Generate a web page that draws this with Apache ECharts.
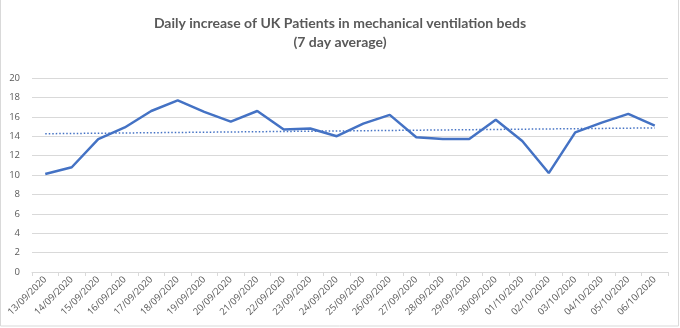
<!DOCTYPE html>
<html><head><meta charset="utf-8">
<script src="https://cdn.jsdelivr.net/npm/echarts@6/dist/echarts.min.js"></script>
<style>html,body{margin:0;padding:0;background:#fff}#c{width:680px;height:328px}</style>
</head><body><div id="c"></div>
<script>
const categories = ["13/09/2020","14/09/2020","15/09/2020","16/09/2020","17/09/2020","18/09/2020","19/09/2020","20/09/2020","21/09/2020","22/09/2020","23/09/2020","24/09/2020","25/09/2020","26/09/2020","27/09/2020","28/09/2020","29/09/2020","30/09/2020","01/10/2020","02/10/2020","03/10/2020","04/10/2020","05/10/2020","06/10/2020"];
const values = [10.1,10.8,13.7,14.9,16.6,17.7,16.5,15.5,16.6,14.7,14.8,14.0,15.3,16.2,13.9,13.7,13.7,15.7,13.5,10.2,14.4,15.4,16.3,15.1];
const yTicks = {min:0, max:20, interval:2};

// linear trendline (least squares) computed from the series
const n = values.length;
let sx=0, sy=0, sxy=0, sxx=0;
values.forEach((v,i)=>{sx+=i;sy+=v;sxy+=i*v;sxx+=i*i;});
const slope = (n*sxy - sx*sy)/(n*sxx - sx*sx);
const intercept = (sy - slope*sx)/n;
const trend = values.map((v,i)=>+(intercept + slope*i).toFixed(3));

const chart = echarts.init(document.getElementById('c'), null, {renderer:'canvas'});
chart.setOption({
  animation:false,
  title:{
    text:'Daily increase of UK Patients in mechanical ventilation beds\n(7 day average)',
    left:'center', top:9,
    textStyle:{fontFamily:'Lato', fontSize:14, fontWeight:'bold', color:'#595959', lineHeight:19}
  },
  graphic:[{type:'rect', shape:{x:0.5,y:-2,width:678,height:328}, style:{fill:'none', stroke:'#d9d9d9', lineWidth:1}, silent:true}],
  grid:{left:32, right:12, top:78, bottom:56, containLabel:false},
  xAxis:{
    type:'category', data:categories, boundaryGap:true,
    axisLine:{lineStyle:{color:'#d9d9d9'}},
    axisTick:{show:true, length:4, lineStyle:{color:'#d9d9d9'}},
    axisLabel:{rotate:45, fontSize:9.5, color:'#595959', fontFamily:'Open Sans', margin:6, interval:0}
  },
  yAxis:{
    type:'value', min:yTicks.min, max:yTicks.max, interval:yTicks.interval,
    axisLine:{show:false}, axisTick:{show:false},
    splitLine:{lineStyle:{color:'#d9d9d9'}},
    axisLabel:{fontSize:9.5, color:'#595959', fontFamily:'Open Sans', margin:12}
  },
  series:[
    {type:'line', data:values, symbol:'none', lineStyle:{color:'#4472C4', width:2.5}, z:3},
    {type:'line', data:trend, symbol:'none', lineStyle:{color:'#4472C4', width:1.5, type:[1.5,2]}, z:2}
  ]
});
</script></body></html>
